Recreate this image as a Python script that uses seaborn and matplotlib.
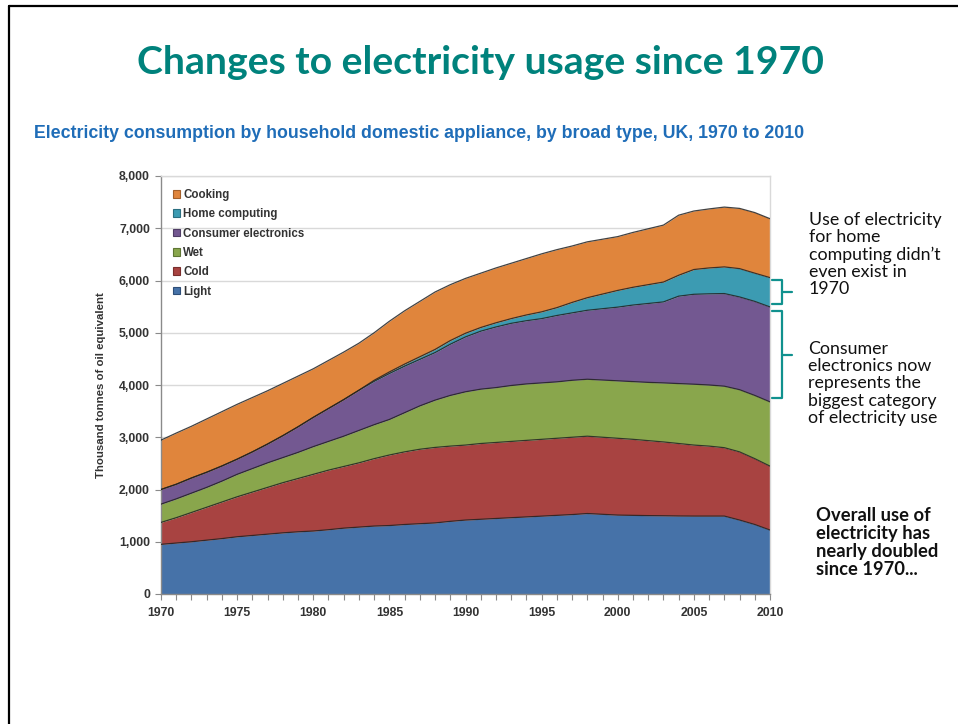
import matplotlib
matplotlib.use("Agg")
import matplotlib.pyplot as plt
from matplotlib.patches import Patch
from matplotlib.lines import Line2D
from matplotlib.ticker import MultipleLocator, FuncFormatter
import matplotlib.transforms as mtransforms
import numpy as np
import pandas as pd
import seaborn as sns

# ---------------- data (thousand tonnes of oil equivalent) ----------------
years = list(range(1970, 2011))

# cumulative tops, converted into per-category values below
top_light = [950, 975, 1000, 1030, 1060, 1095, 1120, 1145, 1170, 1190,
             1205, 1230, 1260, 1280, 1300, 1310, 1330, 1345, 1360, 1390,
             1415, 1430, 1445, 1460, 1475, 1490, 1505, 1520, 1540, 1525,
             1510, 1505, 1500, 1497, 1493, 1491, 1491, 1491, 1415, 1330, 1224]
top_cold = [1370, 1460, 1560, 1660, 1760, 1860, 1950, 2040, 2130, 2210,
            2290, 2370, 2440, 2510, 2590, 2660, 2720, 2770, 2805, 2830,
            2850, 2880, 2900, 2920, 2940, 2960, 2980, 3000, 3020, 3000,
            2980, 2960, 2935, 2910, 2880, 2850, 2830, 2800, 2720, 2590, 2447]
top_wet = [1720, 1820, 1930, 2040, 2160, 2290, 2400, 2510, 2610, 2710,
           2820, 2920, 3020, 3130, 3240, 3340, 3470, 3600, 3710, 3800,
           3870, 3920, 3950, 3990, 4020, 4040, 4060, 4090, 4110, 4095,
           4080, 4065, 4050, 4040, 4027, 4015, 4000, 3977, 3910, 3800, 3677]
top_ce = [2000, 2100, 2220, 2330, 2450, 2580, 2720, 2870, 3030, 3200,
          3380, 3550, 3720, 3900, 4070, 4220, 4360, 4490, 4620, 4780,
          4920, 5030, 5110, 5180, 5230, 5270, 5330, 5380, 5430, 5460,
          5490, 5530, 5560, 5590, 5700, 5736, 5745, 5750, 5685, 5600, 5494]
top_hc = [2000, 2100, 2220, 2330, 2450, 2580, 2720, 2870, 3030, 3200,
          3380, 3550, 3720, 3900, 4090, 4250, 4400, 4540, 4680, 4850,
          4990, 5100, 5190, 5270, 5340, 5400, 5480, 5580, 5670, 5740,
          5810, 5870, 5920, 5970, 6100, 6210, 6240, 6260, 6227, 6140, 6055]
top_cooking = [2945, 3080, 3210, 3350, 3490, 3630, 3760, 3890, 4030, 4170,
               4310, 4470, 4630, 4800, 5000, 5220, 5420, 5600, 5780, 5920,
               6040, 6140, 6240, 6330, 6420, 6510, 6590, 6660, 6740, 6790,
               6840, 6920, 6990, 7060, 7250, 7330, 7370, 7405, 7380, 7300, 7183]

categories = ["Light", "Cold", "Wet", "Consumer electronics", "Home computing", "Cooking"]
colors = ["#4672A8", "#A84341", "#89A64C", "#735891", "#3C9BB2", "#E0853C"]
edge_colors = ["#2E4E78", "#7A2E2D", "#5E7634", "#4F3D66", "#2A6E80", "#A35F2A"]

tops = [top_light, top_cold, top_wet, top_ce, top_hc, top_cooking]
values = {}
prev = np.zeros(len(years))
for cat, t in zip(categories, tops):
    t = np.array(t, dtype=float)
    values[cat] = t - prev
    prev = t
df = pd.DataFrame(values, index=years)

title = "Changes to electricity usage since 1970"
subtitle = "Electricity consumption by household domestic appliance, by broad type, UK, 1970 to 2010"
ylabel = "Thousand tonnes of oil equivalent"
note_hc = "Use of electricity\nfor home\ncomputing didn\u2019t\neven exist in\n1970"
note_ce = "Consumer\nelectronics now\nrepresents the\nbiggest category\nof electricity use"
note_total = "Overall use of\nelectricity has\nnearly doubled\nsince 1970..."

# ---------------- figure ----------------
sns.set_theme(style="white")
plt.rcParams["font.family"] = ["Liberation Sans", "DejaVu Sans"]

W, H = 958, 724
fig = plt.figure(figsize=(W / 100, H / 100), dpi=100)
fig.patch.set_facecolor("white")

def fx(px):
    return px / W

def fy(py):
    return 1 - py / H

ax = fig.add_axes([fx(161), fy(594), fx(770) - fx(161), fy(176) - fy(594)])

# stacked fills
cum = df.cumsum(axis=1)
ax.stackplot(df.index, [df[c].values for c in categories], colors=colors,
             linewidth=0, zorder=2)
# outline of each layer via seaborn
long = cum.reset_index().melt(id_vars="index", var_name="layer", value_name="top")
long = long.rename(columns={"index": "year"})
sns.lineplot(data=long, x="year", y="top", hue="layer", hue_order=categories,
             palette=["#222222"] * len(categories), linewidth=0.9, legend=False,
             ax=ax, zorder=3, alpha=0.85)

ax.set_xlim(1970, 2010)
ax.set_ylim(0, 8000)
ax.yaxis.set_major_locator(MultipleLocator(1000))
ax.yaxis.set_major_formatter(FuncFormatter(lambda v, p: f"{int(v):,}"))
ax.xaxis.set_major_locator(MultipleLocator(5))
ax.xaxis.set_minor_locator(MultipleLocator(1))
ax.grid(axis="y", color="#d9d9d9", linewidth=1.0, zorder=0)
ax.set_axisbelow(True)

for s in ["top", "right"]:
    ax.spines[s].set_color("#d9d9d9")
    ax.spines[s].set_linewidth(1.0)
for s in ["left", "bottom"]:
    ax.spines[s].set_color("#8a8a8a")
    ax.spines[s].set_linewidth(1.0)
ax.spines["bottom"].set_zorder(4)

ax.tick_params(axis="both", which="both", direction="out", colors="#8a8a8a",
               labelcolor="#333333", labelsize=8.8)
ax.tick_params(axis="y", which="major", length=4, width=0.8, pad=4, left=True)
ax.tick_params(axis="x", which="major", length=4, width=0.8, pad=5, bottom=True)
ax.tick_params(axis="x", which="minor", length=4, width=0.8, bottom=True)
for lab in ax.get_xticklabels() + ax.get_yticklabels():
    lab.set_fontweight("bold")
ax.set_xlabel("")
ax.set_ylabel(ylabel, fontsize=8.2, fontweight="bold", color="#333333", labelpad=9)

# legend (Cooking on top, Light at bottom)
handles = [Patch(facecolor=colors[i], edgecolor=edge_colors[i], linewidth=0.8)
           for i in range(len(categories) - 1, -1, -1)]
labels = [categories[i] for i in range(len(categories) - 1, -1, -1)]
leg = ax.legend(handles, labels, loc="upper left", bbox_to_anchor=(0.0, 0.997),
                frameon=False, fontsize=8.3, handlelength=0.65, handleheight=0.65,
                handletextpad=0.3, labelspacing=0.64, borderaxespad=0.6)
for t in leg.get_texts():
    t.set_fontweight("bold")
    t.set_color("#333333")

# brackets on the 2010 values
trans = mtransforms.blended_transform_factory(ax.transAxes, ax.transData)
teal = "#10918E"
def bracket(lo, hi):
    x0, x1, x2 = 1.003, 1.019, 1.036
    ym = (lo + hi) / 2
    ax.plot([x0, x1, x1, x0], [hi, hi, lo, lo], color=teal, lw=1.6,
            transform=trans, clip_on=False, solid_joinstyle="round", zorder=5)
    ax.plot([x1, x2], [ym, ym], color=teal, lw=1.6, transform=trans,
            clip_on=False, zorder=5)

last = cum.iloc[-1]
bracket(last["Consumer electronics"] + 60, last["Home computing"] - 40)
bracket(last["Wet"] + 70, last["Consumer electronics"] - 80)

# titles and notes
fig.text(0.502, fy(62), title, ha="center", va="center", fontsize=28.2,
         fontweight="bold", color="#00827C", family=["Lato", "DejaVu Sans"])
fig.text(fx(34), fy(133), subtitle, ha="left", va="center", fontsize=12.8,
         fontweight="bold", color="#1F6DB8")
fig.text(fx(809), fy(212), note_hc, ha="left", va="top", fontsize=12.8,
         color="#111111", linespacing=1.09, family=["Lato", "DejaVu Sans"])
fig.text(fx(808), fy(341), note_ce, ha="left", va="top", fontsize=12.8,
         color="#111111", linespacing=1.09, family=["Lato", "DejaVu Sans"])
fig.text(fx(816), fy(507), note_total, ha="left", va="top", fontsize=13.2,
         fontweight="bold", color="#111111", linespacing=1.06,
         family=["Lato", "DejaVu Sans"])

# slide frame (left and top black lines)
fig.add_artist(Line2D([fx(8.5), fx(8.5)], [fy(5.5), 0], color="black", lw=1.6))
fig.add_artist(Line2D([fx(8.5), 1], [fy(5.5), fy(5.5)], color="black", lw=1.6))

fig.savefig("out.png", dpi=100, facecolor="white")
